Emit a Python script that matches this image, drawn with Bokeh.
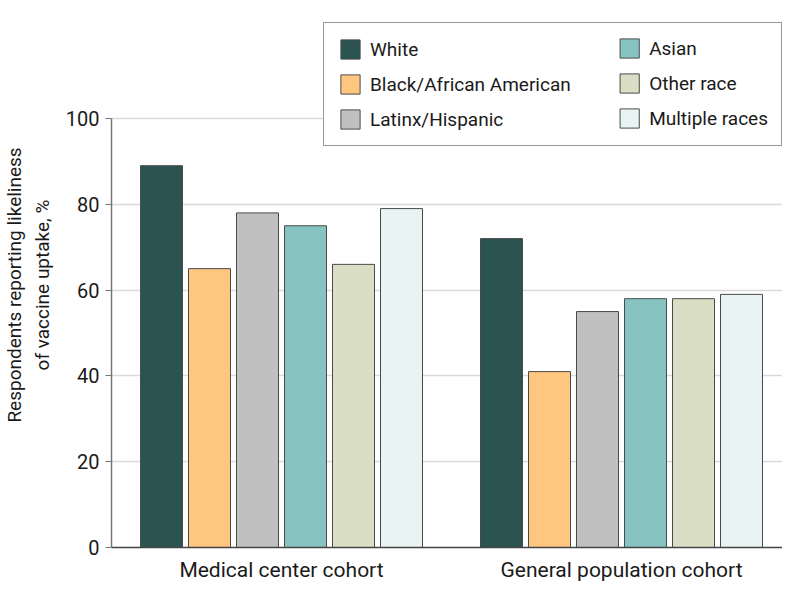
from bokeh.plotting import figure
from bokeh.models import ColumnDataSource, Legend, LegendItem, Range1d, FixedTicker
from bokeh.embed import file_html
from bokeh.resources import INLINE

cohorts = ["Medical center cohort", "General population cohort"]
races = ["White", "Black/African American", "Latinx/Hispanic", "Asian", "Other race", "Multiple races"]
white = [89, 72]
black = [65, 41]
latinx = [78, 55]
asian = [75, 58]
other = [66, 58]
multiple = [79, 59]
series = [white, black, latinx, asian, other, multiple]
colors = ["#2A5352", "#FFC680", "#C0C0C0", "#86C3C1", "#DADEC5", "#E8F4F4"]
y_ticks = [0, 20, 40, 60, 80, 100]

FONT = "Roboto"
PX_PER_GROUP = 340
FRAME_W = 671
step = 48 / PX_PER_GROUP
bar_w = 42 / PX_PER_GROUP
x_start = -0.5
x_end = x_start + FRAME_W / PX_PER_GROUP
# frame spans 525 px vertically; 100 units = 429 px
y_top = 100 * 525 / 429

p = figure(frame_width=FRAME_W, frame_height=525, output_backend="svg", toolbar_location=None,
           x_range=Range1d(x_start, x_end), y_range=Range1d(0, y_top),
           min_border_left=107, min_border_right=0, min_border_top=22, min_border_bottom=40)
p.outline_line_color = None
p.background_fill_color = "white"

renderers = []
for i, (vals, col) in enumerate(zip(series, colors)):
    xs = [g + (i - 2.5) * step for g in range(len(cohorts))]
    src = ColumnDataSource(dict(x=xs, top=vals))
    r = p.vbar(x="x", top="top", width=bar_w, bottom=0, source=src,
               fill_color=col, line_color="#4a4a4a", line_width=1)
    renderers.append(r)

p.xgrid.grid_line_color = None
p.ygrid.grid_line_color = "#d9d9d9"
p.ygrid.grid_line_width = 1.5
p.yaxis.ticker = FixedTicker(ticks=y_ticks)
p.yaxis.bounds = (0, 100)
p.xaxis.ticker = FixedTicker(ticks=list(range(len(cohorts))))
p.xaxis.major_label_overrides = {i: c for i, c in enumerate(cohorts)}

for ax in (p.xaxis, p.yaxis):
    ax.major_label_text_font = FONT
    ax.major_label_text_color = "#1a1a1a"
    ax.minor_tick_line_color = None
    ax.axis_line_width = 1.5

p.xaxis.axis_line_color = "#444444"
p.yaxis.axis_line_color = "#777777"
p.xaxis.major_label_text_font_size = "21px"
p.yaxis.major_label_text_font_size = "20px"
p.xaxis.major_tick_line_color = None
p.xaxis.major_tick_out = 0
p.xaxis.major_tick_in = 0
p.xaxis.major_label_standoff = 10
p.yaxis.major_tick_line_color = "#777777"
p.yaxis.major_tick_out = 6
p.yaxis.major_tick_in = 0
p.yaxis.major_label_standoff = 6
p.yaxis.axis_label = "Respondents reporting likeliness\nof vaccine uptake, %"
p.yaxis.axis_label_text_font = FONT
p.yaxis.axis_label_text_font_size = "19px"
p.yaxis.axis_label_text_font_style = "normal"
p.yaxis.axis_label_text_color = "#1a1a1a"
p.yaxis.axis_label_standoff = 9

def make_legend(items, width, border):
    lg = Legend(items=items, location="top_right", orientation="vertical",
                glyph_width=24, glyph_height=24, spacing=11, padding=14,
                label_standoff=8, label_width=width, label_height=20,
                label_text_font=FONT, label_text_font_size="19px",
                label_text_color="#1a1a1a", margin=0)
    if border:
        lg.border_line_color = "#333333"
        lg.border_line_width = 1
        lg.background_fill_color = "white"
        lg.background_fill_alpha = 1
    else:
        # keep the border (so padding applies) but make it invisible
        lg.border_line_color = "white"
        lg.border_line_alpha = 0
        lg.background_fill_alpha = 0
    return lg

items1 = [LegendItem(label=races[i], renderers=[renderers[i]]) for i in range(3)]
items2 = [LegendItem(label=races[i], renderers=[renderers[i]]) for i in range(3, 6)]
leg1 = make_legend(items1, 397, True)
leg2 = make_legend(items2, 118, False)
p.add_layout(leg1, "center")
p.add_layout(leg2, "center")

open("out.html", "w").write(file_html(p, INLINE))
